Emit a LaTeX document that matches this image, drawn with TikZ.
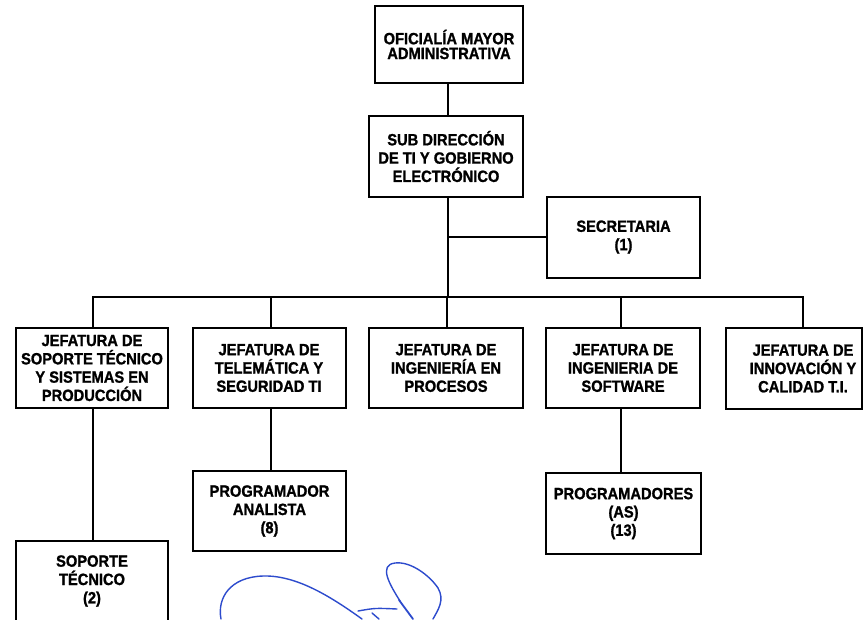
\documentclass[tikz,border=0pt]{standalone}
\usepackage{fontspec}
\setmainfont{Liberation Sans}[FakeStretch=0.9, BoldFeatures={FakeBold=1.2}]
\definecolor{sigblue}{RGB}{45,75,205}
\begin{document}
\begin{tikzpicture}[x=1pt,y=-1pt,
  box/.style={draw, line width=2pt, rectangle, inner sep=0pt, align=center,
    minimum width=153pt, minimum height=80pt,
    font=\fontsize{16.3pt}{18.3pt}\selectfont\bfseries},
  lbl/.style={inner sep=0pt, align=center, font=\fontsize{16.3pt}{18.3pt}\selectfont\bfseries},
  conn/.style={line width=1.8pt},
  sig/.style={draw=sigblue, line width=1.4pt, line cap=round, line join=round}]
\useasboundingbox[fill=white] (0,0) rectangle (864,619);
% top levels
\node[box, minimum width=148pt, minimum height=77pt, font=\fontsize{16.3pt}{14.8pt}\selectfont\bfseries] (ofi) at (449,44.5) {OFICIALÍA MAYOR\\ADMINISTRATIVA};
\node[box, minimum width=154pt, minimum height=81pt] (sub) at (446,156.5) {SUB DIRECCIÓN\\DE TI Y GOBIERNO\\ELECTRÓNICO};
\node[box, minimum width=153pt, minimum height=81pt] (sec) at (623.5,237) {SECRETARIA\\(1)};
% level 2
\node[box, minimum width=152pt] (j1) at (92,368) {JEFATURA DE\\SOPORTE TÉCNICO\\Y SISTEMAS EN\\PRODUCCIÓN};
\node[box] (j2) at (269,368) {JEFATURA DE\\TELEMÁTICA Y\\SEGURIDAD TI};
\node[box, minimum width=154pt] (j3) at (446,368) {JEFATURA DE\\INGENIERÍA EN\\PROCESOS};
\node[box, minimum width=154pt] (j4) at (623,368) {JEFATURA DE\\INGENIERIA DE\\SOFTWARE};
\node[box, minimum width=136pt, minimum height=81pt] (j5) at (794,368.5) {};
\node[lbl] (j5t) at (803,368.5) {JEFATURA DE\\INNOVACIÓN Y\\CALIDAD T.I.};
% level 3
\node[box] (pa) at (269.5,511) {PROGRAMADOR\\ANALISTA\\(8)};
\node[box, minimum width=155pt, minimum height=81pt] (ps) at (623.5,513.5) {PROGRAMADORES\\(AS)\\(13)};
\node[box, minimum width=152pt] (st) at (92,581) {SOPORTE\\TÉCNICO\\(2)};
% connectors
\coordinate (bus) at (448,297);
\coordinate (busL) at (93,297);
\coordinate (busR) at (803,297);
\draw[conn] (bus |- ofi.south) -- (bus |- sub.north);
\draw[conn] (bus |- sub.south) -- (bus);
\draw[conn] (bus |- sec.west) -- (sec.west);
\draw[conn] (busL |- j1.north) -- (busL) -- (busR) -- (busR |- j5.north);
\draw[conn] (271,297) -- (271,328);
\draw[conn] (447,297) -- (447,328);
\draw[conn] (621,297) -- (621,328);
\draw[conn] (busL |- j1.south) -- (busL |- st.north);
\draw[conn] (271,408) -- (271,471);
\draw[conn] (621,408) -- (621,473);
% signature
\draw[sig] (221,619) .. controls (217,598) and (230,577) .. (263,576) .. controls (296,575) and (330,596) .. (362,619);
\draw[sig] (358,611) .. controls (375,608) .. (397,609);
\draw[sig] (372,613) -- (379,619);
\draw[sig] (400,601) .. controls (390,585) and (378,565) .. (395,563) .. controls (411,561) and (430,576) .. (438,588) .. controls (445,600) and (438,610) .. (433,619);
\draw[sig, line width=1.8pt] (399,600) -- (413,619);
\end{tikzpicture}
\end{document}
